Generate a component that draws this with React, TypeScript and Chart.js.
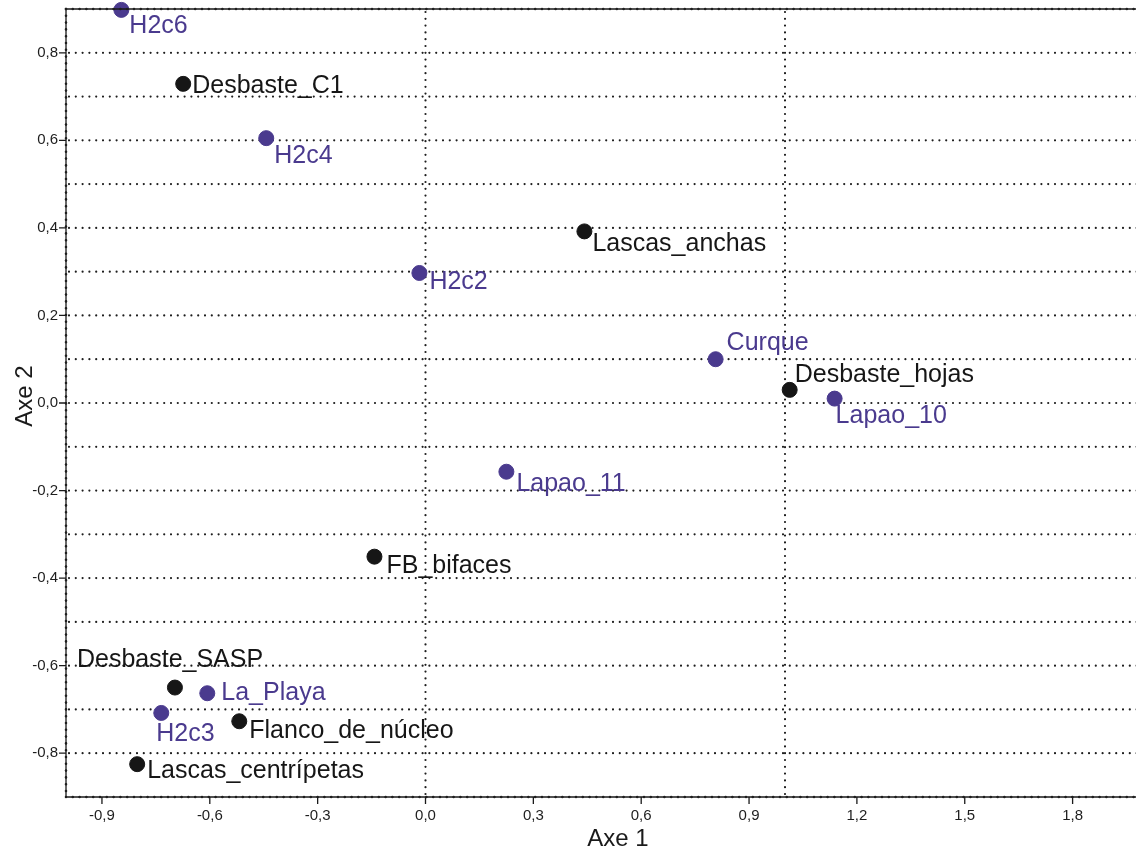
import React, { useEffect, useRef } from "react";
import { Chart, registerables } from "chart.js";

Chart.register(...registerables);

const pointNames = [
  "H2c6", "Desbaste_C1", "H2c4", "Lascas_anchas", "H2c2", "Curque", "Desbaste_hojas",
  "Lapao_10", "Lapao_11", "FB_bifaces", "Desbaste_SASP", "La_Playa", "H2c3",
  "Flanco_de_núcleo", "Lascas_centrípetas",
];
const axe1Values = [
  -0.846, -0.674, -0.443, 0.442, -0.017, 0.807, 1.013,
  1.138, 0.225, -0.142, -0.697, -0.607, -0.735,
  -0.518, -0.802,
];
const axe2Values = [
  0.898, 0.729, 0.605, 0.392, 0.297, 0.100, 0.030,
  0.010, -0.157, -0.351, -0.650, -0.663, -0.708,
  -0.727, -0.825,
];
// 1 = site (purple), 0 = category (black)
const isSite = [1, 0, 1, 0, 1, 1, 0, 1, 1, 0, 0, 1, 1, 0, 0];

const xTickValues = [-0.9, -0.6, -0.3, 0.0, 0.3, 0.6, 0.9, 1.2, 1.5, 1.8];
const yTickValues = [-0.8, -0.6, -0.4, -0.2, 0.0, 0.2, 0.4, 0.6, 0.8];
const yGridValues = [-0.8, -0.7, -0.6, -0.5, -0.4, -0.3, -0.2, -0.1, 0.0, 0.1, 0.2, 0.3, 0.4, 0.5, 0.6, 0.7, 0.8];
const xGridValues = [0.0, 1.0];

// label placement offsets (px) relative to each point: [dx, baseline dy]
const labelOffsets: [number, number][] = [
  [8, 23], [9, 9], [8, 25], [8, 20], [10, 16], [11, -9], [5, -8],
  [1, 24], [10, 19], [12, 16], [-98, -21], [14, 7], [-5, 28],
  [10, 17], [10, 14],
];

const PURPLE = "#4a3a8e";
const BLACK = "#161616";
const FONT = '"Liberation Sans", Arial, Helvetica, sans-serif';

const fmt = (v: number) => (Math.abs(v) < 1e-9 ? "0,0" : v.toFixed(1).replace(".", ","));

export default function App() {
  const ref = useRef<HTMLCanvasElement | null>(null);

  useEffect(() => {
    if (!ref.current) return;

    const sitePts: { x: number; y: number }[] = [];
    const catPts: { x: number; y: number }[] = [];
    pointNames.forEach((_, i) => {
      const p = { x: axe1Values[i], y: axe2Values[i] };
      if (isSite[i]) sitePts.push(p);
      else catPts.push(p);
    });

    const dotted = (ctx: CanvasRenderingContext2D, x1: number, y1: number, x2: number, y2: number, w = 2.2) => {
      ctx.save();
      ctx.strokeStyle = "#1e1e1e";
      ctx.lineWidth = w;
      ctx.lineCap = "round";
      ctx.setLineDash([0, 6.8]);
      ctx.beginPath();
      ctx.moveTo(x1, y1);
      ctx.lineTo(x2, y2);
      ctx.stroke();
      ctx.restore();
    };

    const decor = {
      id: "decor",
      beforeDatasetsDraw(chart: any) {
        const { ctx, chartArea, scales } = chart;
        const { left, right, top, bottom } = chartArea;
        yGridValues.forEach((v) => {
          const y = scales.y.getPixelForValue(v);
          dotted(ctx, left + 3, y, right, y);
        });
        xGridValues.forEach((v) => {
          const x = scales.x.getPixelForValue(v);
          dotted(ctx, x, top + 3, x, bottom);
        });
      },
      afterDatasetsDraw(chart: any) {
        const { ctx, chartArea, scales } = chart;
        const { left, right, top, bottom } = chartArea;
        // axis borders
        ctx.save();
        ctx.strokeStyle = "#1a1a1a";
        ctx.lineWidth = 1.3;
        ctx.beginPath();
        ctx.moveTo(left, top);
        ctx.lineTo(right, top);
        ctx.moveTo(left, top);
        ctx.lineTo(left, bottom);
        ctx.lineTo(right, bottom);
        ctx.stroke();
        ctx.restore();
        dotted(ctx, left, top, right, top, 2.6);
        dotted(ctx, left, top, left, bottom, 2.6);
        dotted(ctx, left, bottom, right, bottom, 2.6);
        // tick marks
        ctx.save();
        ctx.strokeStyle = "#1a1a1a";
        ctx.lineWidth = 1.3;
        ctx.beginPath();
        yTickValues.forEach((v) => {
          const y = scales.y.getPixelForValue(v);
          ctx.moveTo(left - 7, y);
          ctx.lineTo(left, y);
        });
        xTickValues.forEach((v) => {
          const x = scales.x.getPixelForValue(v);
          ctx.moveTo(x, bottom);
          ctx.lineTo(x, bottom + 7);
        });
        ctx.stroke();
        ctx.restore();

        // point labels
        ctx.save();
        ctx.font = `25px ${FONT}`;
        ctx.textAlign = "left";
        ctx.textBaseline = "alphabetic";
        pointNames.forEach((name, i) => {
          const x = scales.x.getPixelForValue(axe1Values[i]);
          const y = scales.y.getPixelForValue(axe2Values[i]);
          const [dx, dy] = labelOffsets[i];
          ctx.fillStyle = isSite[i] ? PURPLE : BLACK;
          ctx.fillText(name, x + dx, y + dy);
        });
        ctx.restore();

        // axis titles
        ctx.save();
        ctx.font = `24px ${FONT}`;
        ctx.fillStyle = "#1a1a1a";
        ctx.textAlign = "center";
        ctx.textBaseline = "alphabetic";
        ctx.fillText("Axe 1", 618, 846);
        ctx.translate(32, 396);
        ctx.rotate(-Math.PI / 2);
        ctx.fillText("Axe 2", 0, 0);
        ctx.restore();
      },
    };

    const chart = new Chart(ref.current, {
      type: "scatter",
      data: {
        datasets: [
          {
            label: "Sitios",
            data: sitePts,
            backgroundColor: PURPLE,
            borderColor: PURPLE,
            pointRadius: 7.5,
            pointHoverRadius: 7.5,
            clip: false as any,
          },
          {
            label: "Categorías",
            data: catPts,
            backgroundColor: BLACK,
            borderColor: BLACK,
            pointRadius: 7.5,
            pointHoverRadius: 7.5,
            clip: false as any,
          },
        ],
      },
      options: {
        animation: false,
        responsive: false,
        events: [],
        layout: { padding: { top: 9, left: 0, right: 0, bottom: 0 } },
        plugins: { legend: { display: false }, tooltip: { enabled: false } },
        scales: {
          x: {
            type: "linear",
            min: -1.0,
            max: 2.0,
            grid: { display: false, drawTicks: false, tickLength: 0 },
            border: { display: false },
            afterBuildTicks: (scale: any) => {
              scale.ticks = xTickValues.map((v) => ({ value: v }));
            },
            afterFit: (scale: any) => {
              scale.height = 55;
              scale.paddingLeft = 0;
              scale.paddingRight = 0;
              scale.paddingTop = 0;
              scale.paddingBottom = 0;
            },
            ticks: {
              autoSkip: false,
              maxRotation: 0,
              padding: 10,
              color: "#1e1e1e",
              font: { family: FONT, size: 15 },
              callback: (v: any) => fmt(Number(v)),
            },
          },
          y: {
            type: "linear",
            min: -0.9,
            max: 0.9,
            grid: { display: false, drawTicks: false, tickLength: 0 },
            border: { display: false },
            afterBuildTicks: (scale: any) => {
              scale.ticks = yTickValues.map((v) => ({ value: v }));
            },
            afterFit: (scale: any) => {
              scale.width = 66;
              scale.paddingLeft = 0;
              scale.paddingRight = 0;
              scale.paddingTop = 0;
              scale.paddingBottom = 0;
            },
            ticks: {
              autoSkip: false,
              padding: 8,
              color: "#1e1e1e",
              font: { family: FONT, size: 15 },
              callback: (v: any) => fmt(Number(v)),
            },
          },
        },
      },
      plugins: [decor],
    });

    return () => chart.destroy();
  }, []);

  return (
    <div
      style={{
        position: "fixed",
        left: 0,
        top: 0,
        width: 1136,
        height: 852,
        overflow: "hidden",
        background: "#ffffff",
      }}
    >
      <canvas ref={ref} width={1153} height={852} style={{ display: "block", width: 1153, height: 852 }} />
    </div>
  );
}
